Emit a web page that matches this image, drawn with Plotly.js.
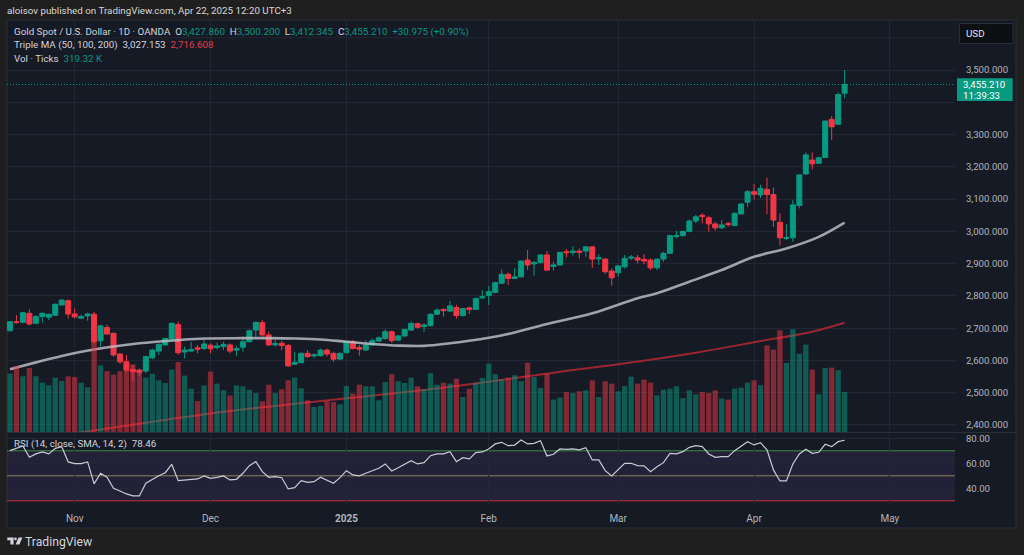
<!DOCTYPE html>
<html><head><meta charset="utf-8">
<script src="https://cdn.plot.ly/plotly-3.0.1.min.js"></script>
<style>html,body{margin:0;padding:0;background:#1f1f1f;overflow:hidden}#chart{width:1024px;height:555px}</style>
</head><body><div id="chart"></div>
<script>
// ---- data (daily bars, Oct 18 2024 .. Apr 22 2025, bar index 0..129) ----
const openP = [2692,2720,2718,2746,2715,2736,2734,2740,2772,2785,
2744,2731,2738,2743,2661,2702,2684,2620,2596,2572,
2570,2567,2608,2629,2648,2666,2711,2626,2629,2639,
2637,2647,2640,2643,2648,2632,2641,2658,2694,2717,
2679,2648,2653,2646,2588,2593,2622,2614,2615,2632,
2622,2604,2624,2658,2640,2632,2648,2660,2668,2689,
2663,2676,2694,2714,2705,2708,2743,2758,2753,2764,
2739,2763,2758,2794,2801,2811,2839,2867,2854,2859,
2911,2899,2903,2927,2891,2896,2937,2934,2939,2939,
2952,2915,2914,2877,2872,2890,2917,2918,2913,2911,
2887,2914,2932,2984,2987,3000,3032,3050,3042,3023,
3011,3024,3018,3054,3090,3123,3113,3130,3114,3028,
2978,2980,3080,3178,3221,3211,3229,3347,3332,3427.860];
const highP = [2722,2741,2750,2758,2740,2748,2745,2776,2790,2789,
2761,2742,2748,2750,2710,2711,2686,2622,2617,2586,
2575,2614,2636,2652,2670,2718,2720,2643,2658,2648,
2665,2653,2655,2658,2653,2645,2674,2696,2720,2725,
2689,2663,2661,2651,2627,2625,2632,2622,2637,2637,
2627,2625,2660,2663,2648,2663,2668,2674,2696,2692,
2679,2698,2720,2717,2715,2745,2761,2761,2784,2772,
2763,2767,2794,2818,2831,2844,2882,2872,2885,2911,
2942,2908,2929,2939,2906,2937,2945,2954,2947,2954,
2954,2929,2916,2885,2896,2927,2927,2927,2929,2916,
2914,2937,2989,3002,3001,3037,3051,3056,3048,3030,
3035,3030,3058,3087,3128,3147,3144,3167,3136,3056,
3022,3097,3175,3245,3245,3231,3342,3357,3430,3500.200];
const lowP = [2690,2714,2716,2708,2712,2717,2725,2738,2770,2730,
2730,2728,2723,2653,2643,2679,2612,2589,2565,2537,
2552,2560,2605,2617,2646,2664,2617,2606,2627,2622,
2632,2622,2634,2632,2622,2614,2627,2656,2673,2673,
2645,2643,2632,2581,2586,2591,2608,2608,2612,2612,
2596,2603,2622,2634,2615,2629,2645,2658,2663,2655,
2660,2673,2692,2699,2689,2705,2741,2736,2751,2730,
2737,2744,2756,2790,2772,2808,2837,2834,2852,2857,
2880,2863,2901,2877,2878,2893,2919,2925,2916,2921,
2887,2896,2868,2832,2859,2885,2911,2901,2898,2880,
2880,2906,2930,2978,2984,2997,3025,3025,2999,3002,
3007,3014,3016,3052,3076,3099,3104,3053,3014,2956,
2973,2968,3071,3175,3192,3209,3229,3283,3330,3412.345];
const closeP = [2720,2718,2748,2713,2736,2746,2743,2774,2787,2744,
2735,2736,2744,2658,2707,2682,2617,2596,2570,2565,
2563,2612,2632,2650,2668,2715,2624,2632,2634,2635,
2651,2636,2645,2650,2629,2637,2658,2692,2718,2679,
2648,2653,2646,2583,2594,2622,2612,2617,2632,2620,
2604,2622,2658,2637,2635,2648,2661,2670,2689,2661,
2676,2696,2715,2703,2710,2743,2756,2754,2769,2739,
2761,2758,2792,2797,2813,2841,2867,2854,2859,2908,
2896,2904,2927,2880,2896,2935,2934,2939,2935,2952,
2914,2918,2875,2856,2893,2916,2920,2911,2908,2887,
2914,2932,2987,2987,3000,3032,3045,3046,3023,3011,
3020,3021,3056,3085,3123,3115,3133,3114,3035,2980,
2981,3082,3175,3237,3209,3228,3342,3324,3424.235,3455.210];
// volume in thousands of ticks
const volK = [466,524,445,511,445,394,373,434,407,445,
439,394,357,786,532,485,458,485,493,540,
498,434,466,413,391,498,559,450,346,247,
373,482,386,333,291,373,365,338,311,245,
378,311,341,413,434,349,253,200,208,247,
239,221,367,307,378,365,365,253,399,461,
405,391,434,365,341,469,378,394,386,426,
279,346,394,431,546,461,421,434,453,405,
554,439,351,466,259,275,319,311,325,333,
413,279,405,386,325,367,442,386,418,394,
293,338,346,365,271,333,301,319,311,333,
267,259,346,354,394,413,373,692,658,812,
551,820,626,698,498,301,511,514,493,319.32];
const rsi = [70.1,72,73.9,64.8,67.5,69.1,67.5,72,73.3,61.1,
59.7,59.7,61.1,43.5,52,48.8,40,37.9,35.5,33.9,
33.9,44,47.2,50.1,52.5,59.2,46.1,46.7,47.2,47.5,
49.9,48,48.8,49.9,46.7,47.2,52,58.1,61.3,53.3,
48.8,49.3,48.5,39.5,40.5,46.1,44.8,45.3,48.8,46.7,
44,48.5,54.1,50.7,49.9,52,54.1,56,59.5,53.9,
56.5,59.2,62.1,59.5,60.5,66.1,67.5,67.5,69.3,61.3,
64.5,63.5,68.5,69.1,71.5,75.5,76.8,74.1,74.6,78.7,
75.5,76,78.1,65.9,67.2,71.5,71.2,71.5,70.7,72.5,
62.7,62.7,54.1,49.9,55.2,60,60,58.1,57.9,53.3,
57.3,60.5,68,67.5,69.3,72.8,74.1,73.3,67.5,64.8,
65.3,65.3,70.1,73.9,77.3,74.7,76.5,70.7,54.7,45.9,
45.9,59.5,67.5,71.2,68,68.8,75.2,73.3,77.3,78.46];
// moving averages read at sample bars
const ma50Idx = [0,4,8,13,20,26,30,36,40,44,48,52,56,60,64,68,74,77,83,90,97,100,105,110,115,120,125,129];
const ma50Val = [2573,2594,2614,2634,2653,2663,2668,2669,2669,2668,2665,2658,2651,2646,2645,2653,2670,2682,2713,2746,2793,2808,2844,2880,2921,2947,2983,3027.153];
const ma200Idx = [0,12,33,48,65,74,84,94,106,116,124,129];
const ma200Val = [2345,2380,2441,2474,2511,2534,2562,2588,2624,2660,2689,2716.608];
// axis ticks
const monthTicks = [10,31,52,74,94,115,136];
const monthLabels = ['Nov','Dec','<b>2025</b>','Feb','Mar','Apr','May'];
const priceTicks = [2400,2500,2600,2700,2800,2900,3000,3100,3200,3300,3400,3500];
const hiddenPriceTicks = [3400]; // covered by the last-price label
const gridOnlyTicks = [3600];    // covered by the currency box
const rsiTicks = [40,60,80];
const rsiLevels = {upper:70, middle:50, lower:30};

// ---- layout helpers (pixel -> paper) ----
const L=7, R=955, T=21, B=505;
const pw=R-L, ph=B-T;
const px = v => (v-L)/pw;
const py = v => (B-v)/ph;
const fmt3 = n => n.toLocaleString('en-US',{minimumFractionDigits:3,maximumFractionDigits:3});
const fmt2 = n => n.toLocaleString('en-US',{minimumFractionDigits:2,maximumFractionDigits:2});

const UP='#089981', DN='#f23645', TXT='#d1d4dc', AX='#b2b5be', GRID='#232733';
const idx = closeP.map((_,i)=>i);
const n = closeP.length-1;
const volColors = closeP.map((c,i)=> c>=openP[i] ? 'rgba(8,153,129,0.5)' : 'rgba(242,54,69,0.5)');

const traces = [
 {type:'bar', x:idx, y:volK, xaxis:'x', yaxis:'y2', marker:{color:volColors, line:{width:0}}, width:0.82, hoverinfo:'skip'},
 {type:'scatter', mode:'lines', x:ma200Idx, y:ma200Val, xaxis:'x', yaxis:'y', line:{color:'rgba(178,40,51,0.85)', width:2, shape:'spline'}, hoverinfo:'skip'},
 {type:'scatter', mode:'lines', x:ma50Idx, y:ma50Val, xaxis:'x', yaxis:'y', line:{color:'rgba(185,187,195,0.85)', width:2.6, shape:'spline'}, hoverinfo:'skip'},
 {type:'candlestick', x:idx, open:openP, high:highP, low:lowP, close:closeP, xaxis:'x', yaxis:'y',
  increasing:{line:{color:UP,width:1}, fillcolor:UP}, decreasing:{line:{color:DN,width:1}, fillcolor:DN}, whiskerwidth:0, hoverinfo:'skip'},
 {type:'scatter', mode:'lines', x:idx, y:rsi, xaxis:'x2', yaxis:'y3', line:{color:'#c9cbd1', width:1.2}, hoverinfo:'skip'}
];

const chg = closeP[n]-closeP[n-1];
const chgPct = chg/closeP[n-1]*100;
const g = s => '<span style="color:'+UP+'">'+s+'</span>';
const sp = '\u00a0\u00a0';
const line1 = 'Gold Spot / U.S. Dollar · 1D · OANDA'+sp+'O'+g(fmt3(openP[n]))+sp+'H'+g(fmt3(highP[n]))+sp+'L'+g(fmt3(lowP[n]))+sp+'C'+g(fmt3(closeP[n]))+sp+g('+'+fmt3(chg)+' (+'+chgPct.toFixed(2)+'%)');
const line2 = 'Triple MA (50, 100, 200)'+sp+fmt3(ma50Val[ma50Val.length-1])+sp+'<span style="color:#e0394a">'+fmt3(ma200Val[ma200Val.length-1])+'</span>';
const line3 = 'Vol · Ticks'+sp+g(fmt2(volK[n])+' K');
const rsiLab = 'RSI (14, close, SMA, 14, 2)'+sp+fmt2(rsi[n]);

const ann = (x,y,text,size,color,extra) => Object.assign({xref:'paper',yref:'paper',x:px(x),y:py(y),text:text,showarrow:false,xanchor:'left',yanchor:'middle',font:{size:size,color:color}},extra||{});

const annotations = [
 ann(5,11,'aloisov published on TradingView.com, Apr 22, 2025 12:20 UTC+3',9.8,'#d8d8d8'),
 ann(12,32,line1,9.8,TXT),
 ann(12,45,line2,9.8,TXT),
 ann(12,58,line3,9.8,TXT),
 ann(12,444,rsiLab,9.8,TXT),
 ann(964,33,'USD',9.8,'#e0e3eb'),
 ann(961,84.5,fmt3(closeP[n]),9.6,'#ffffff'),
 ann(961,95.5,'11:39:33',9.6,'#ffffff'),
 ann(23,541.5,'TradingView',12.2,TXT)
];

const rect = (x0,y0,x1,y1,fill,line,layer) => ({type:'rect',xref:'paper',yref:'paper',x0:px(x0),x1:px(x1),y0:py(y1),y1:py(y0),fillcolor:fill,line:line||{width:0},layer:layer||'above'});
const P = (x,y) => px(x).toFixed(5)+','+py(y).toFixed(5);
const shapes = [
 rect(7,20,1016,528,'#161a25',{color:'#2a2e39',width:1},'below'),
 {type:'line',xref:'paper',yref:'paper',x0:px(7),x1:px(1016),y0:py(432.5),y1:py(432.5),line:{color:'#2a2e39',width:1},layer:'below'},
 {type:'rect',xref:'paper',yref:'y3',x0:0,x1:1,y0:rsiLevels.lower,y1:rsiLevels.upper,fillcolor:'rgba(126,87,194,0.12)',line:{width:0},layer:'below'},
 {type:'line',xref:'paper',yref:'y3',x0:0,x1:1,y0:rsiLevels.upper,y1:rsiLevels.upper,line:{color:'#3f8a4b',width:1},layer:'below'},
 {type:'line',xref:'paper',yref:'y3',x0:0,x1:1,y0:rsiLevels.middle,y1:rsiLevels.middle,line:{color:'#8c875a',width:1},layer:'below'},
 {type:'line',xref:'paper',yref:'y3',x0:0,x1:1,y0:rsiLevels.lower,y1:rsiLevels.lower,line:{color:'#c8303d',width:1},layer:'below'},
 {type:'line',xref:'paper',yref:'y',x0:0,x1:1,y0:closeP[n],y1:closeP[n],line:{color:UP,width:1,dash:'1px,2px'},layer:'above'},
 rect(957,78.3,1012.7,101,UP,{width:0}),
 rect(959.5,23.5,1013,43.5,'#0e0f12',{color:'#2a2e39',width:1}),
 // TradingView logo
 {type:'path',xref:'paper',yref:'paper',path:'M'+P(7.3,537.6)+' L'+P(13.6,537.6)+' L'+P(13.6,544.4)+' L'+P(10.4,544.4)+' L'+P(10.4,540.2)+' L'+P(7.3,540.2)+' Z',fillcolor:TXT,line:{width:0},layer:'above'},
 {type:'circle',xref:'paper',yref:'paper',x0:px(14.2),x1:px(16.8),y0:py(540.2),y1:py(537.6),fillcolor:TXT,line:{width:0},layer:'above'},
 {type:'path',xref:'paper',yref:'paper',path:'M'+P(18.6,537.6)+' L'+P(22.4,537.6)+' L'+P(19.4,544.4)+' L'+P(15.6,544.4)+' Z',fillcolor:TXT,line:{width:0},layer:'above'}
];
// grid line for the price level hidden behind the currency box
gridOnlyTicks.forEach(v => shapes.push({type:'line',xref:'paper',yref:'y',x0:0,x1:1,y0:v,y1:v,line:{color:GRID,width:1},layer:'below'}));

const layout = {
 width:1024, height:555,
 margin:{l:L, r:1024-R, t:T, b:555-B, pad:0},
 paper_bgcolor:'#1f1f1f', plot_bgcolor:'rgba(0,0,0,0)',
 font:{family:'Roboto, "Noto Sans", sans-serif', color:AX, size:9.6},
 showlegend:false, hovermode:false, dragmode:false,
 boxgap:0.12, boxgroupgap:0.12,
 xaxis:{domain:[0,1], anchor:'y', range:[-0.46,146.06], tickmode:'array', tickvals:monthTicks, showticklabels:false,
        showgrid:true, gridcolor:GRID, gridwidth:1, zeroline:false, showline:false, ticks:'', rangeslider:{visible:false}, fixedrange:true},
 xaxis2:{domain:[0,1], anchor:'y3', matches:'x', tickmode:'array', tickvals:monthTicks, ticktext:monthLabels,
        showgrid:true, gridcolor:GRID, gridwidth:1, zeroline:false, showline:false, ticks:'outside', ticklen:4, tickcolor:'rgba(0,0,0,0)',
        tickfont:{size:10, color:AX}, rangeslider:{visible:false}, fixedrange:true},
 yaxis:{domain:[py(432),1], range:[2378.2,3651.9], side:'right', anchor:'x', tickmode:'array', tickvals:priceTicks,
        ticktext:priceTicks.map(v => hiddenPriceTicks.includes(v) ? '' : fmt3(v)),
        showgrid:true, gridcolor:GRID, gridwidth:1, zeroline:false, showline:false, ticks:'outside', ticklen:8, tickcolor:'rgba(0,0,0,0)',
        tickfont:{size:9.6, color:AX}, fixedrange:true},
 yaxis2:{overlaying:'y', anchor:'x', domain:[py(432),1], range:[0,411*7.983], visible:false, fixedrange:true},
 yaxis3:{domain:[0,py(433)], range:[26.64,84.24], side:'right', anchor:'x2', tickmode:'array', tickvals:rsiTicks, ticktext:rsiTicks.map(fmt2),
        showgrid:true, gridcolor:GRID, gridwidth:1, zeroline:false, showline:false, ticks:'outside', ticklen:8, tickcolor:'rgba(0,0,0,0)',
        tickfont:{size:9.6, color:AX}, fixedrange:true},
 shapes:shapes, annotations:annotations
};
Plotly.newPlot('chart', traces, layout, {staticPlot:true, displayModeBar:false});
</script></body></html>
